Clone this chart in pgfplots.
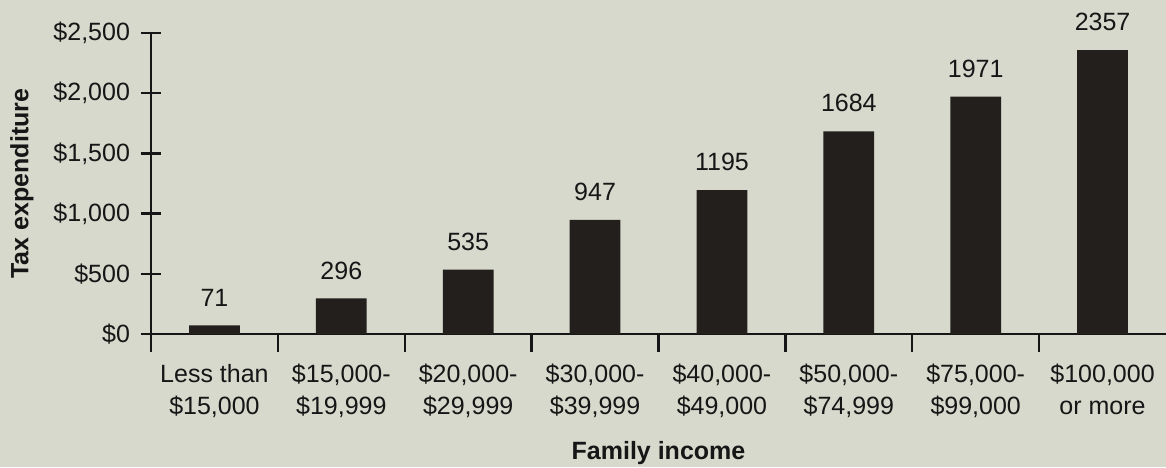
\documentclass[border=0pt]{standalone}
\usepackage{pgfplots}
\pgfplotsset{compat=1.18}
\usepackage{fontspec}
\setmainfont{Liberation Sans}
\definecolor{bg}{RGB}{214,217,204}
\definecolor{barc}{RGB}{34,31,28}
\definecolor{txt}{RGB}{22,22,22}
\begin{document}
\begin{tikzpicture}[x=1pt,y=1pt]
\fill[bg] (-75.5pt,-66.5pt) rectangle (507.5pt,167pt);
\begin{axis}[
  at={(0,0)}, anchor=south west,
  scale only axis,
  width=507.5pt, height=150.5pt,
  xmin=-0.5, xmax=7.5,
  ymin=0, ymax=2500,
  axis x line=bottom, axis y line=left,
  axis line style={line width=1.4pt, txt, -},
  every tick/.style={line width=1.2pt, txt},
  xtick={0,...,7},
  major x tick style={draw=none},
  minor xtick={-0.5,0.5,...,6.5},
  minor tick length=9pt,
  major tick length=10pt,
  tick align=center,
  ytick={0,500,...,2500},
  yticklabels={{\$0},{\$500},{\$1,000},{\$1,500},{\$2,000},{\$2,500}},
  xticklabels={{Less than\\\$15,000},{\$15,000-\\\$19,999},{\$20,000-\\\$29,999},{\$30,000-\\\$39,999},{\$40,000-\\\$49,000},{\$50,000-\\\$74,999},{\$75,000-\\\$99,000},{\$100,000\\or more}},
  xticklabel style={align=center, font=\fontsize{12.5}{16}\selectfont, text=txt, yshift=-1.5pt},
  yticklabel style={font=\fontsize{12.5}{15}\selectfont, text=txt, xshift=-2pt},
  /pgf/number format/assume math mode=true,
  /pgf/number format/1000 sep={},
  ylabel={\textbf{Tax expenditure}},
  xlabel={\textbf{Family income}},
  label style={font=\fontsize{12.5}{15}\selectfont, text=txt},
  ylabel style={at={(axis description cs:-0.1271,0.5)}, anchor=center, rotate=0},
  xlabel style={at={(axis description cs:0.5,-0.395)}, anchor=center},
  clip=false,
  ybar, bar width=0.4,
  nodes near coords,
  every node near coord/.append style={font=\fontsize{12.5}{15}\selectfont, text=txt, yshift=6pt},
]
\addplot[fill=barc, draw=none] coordinates {(0,71) (1,296) (2,535) (3,947) (4,1195) (5,1684) (6,1971) (7,2357)};
\end{axis}
\pgfresetboundingbox
\useasboundingbox (-75.5pt,-66.5pt) rectangle (507.5pt,167pt);
\end{tikzpicture}
\end{document}
